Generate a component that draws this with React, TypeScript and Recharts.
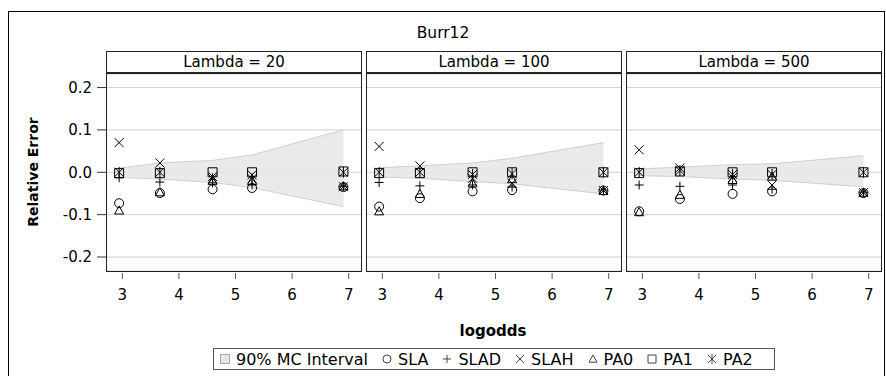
import React from 'react';
import { ComposedChart, Area, Scatter, XAxis, YAxis, CartesianGrid } from 'recharts';

// logodds = log((1-p)/p) for p = 0.05, 0.025, 0.01, 0.005, 0.001
const logodds = [2.944, 3.664, 4.595, 5.293, 6.907];
const panelTitles = ['Lambda = 20', 'Lambda = 100', 'Lambda = 500'];
const xTicks = [3, 4, 5, 6, 7];
const yTicks = [-0.2, -0.1, 0, 0.1, 0.2];

// 90% MC interval bounds, one row per lambda
const mcLow = [
  [-0.012, -0.016, -0.024, -0.036, -0.081],
  [-0.011, -0.014, -0.022, -0.027, -0.051],
  [-0.008, -0.010, -0.016, -0.019, -0.034],
];
const mcHigh = [
  [0.010, 0.022, 0.028, 0.041, 0.100],
  [0.011, 0.015, 0.022, 0.033, 0.070],
  [0.008, 0.012, 0.018, 0.020, 0.039],
];

// relative errors of each estimator, one row per lambda
const sla = [
  [-0.073, -0.049, -0.040, -0.037, -0.035],
  [-0.081, -0.061, -0.045, -0.042, -0.043],
  [-0.092, -0.063, -0.051, -0.045, -0.049],
];
const slad = [
  [-0.013, -0.023, -0.025, -0.030, -0.033],
  [-0.024, -0.032, -0.030, -0.035, -0.042],
  [-0.030, -0.033, -0.030, -0.040, -0.047],
];
const slah = [
  [0.070, 0.022, -0.010, -0.006, -0.034],
  [0.061, 0.015, -0.014, -0.026, -0.043],
  [0.053, 0.010, -0.012, -0.030, -0.048],
];
const pa0 = [
  [-0.090, -0.047, -0.020, -0.020, -0.033],
  [-0.092, -0.051, -0.026, -0.016, -0.044],
  [-0.094, -0.053, -0.018, -0.010, -0.048],
];
const pa1 = [
  [-0.002, -0.002, 0.0, 0.0, 0.002],
  [-0.002, -0.002, 0.0, 0.0, 0.0],
  [-0.002, 0.002, 0.0, 0.0, 0.0],
];
const pa2 = [
  [0.0, 0.0, -0.015, -0.015, 0.0],
  [0.0, 0.0, -0.005, -0.003, 0.0],
  [0.0, 0.004, -0.005, -0.005, 0.0],
];

type Kind = 'circle' | 'plus' | 'cross' | 'triangle' | 'square' | 'star';

const series: { key: string; name: string; kind: Kind; values: number[][] }[] = [
  { key: 'sla', name: 'SLA', kind: 'circle', values: sla },
  { key: 'slad', name: 'SLAD', kind: 'plus', values: slad },
  { key: 'slah', name: 'SLAH', kind: 'cross', values: slah },
  { key: 'pa0', name: 'PA0', kind: 'triangle', values: pa0 },
  { key: 'pa1', name: 'PA1', kind: 'square', values: pa1 },
  { key: 'pa2', name: 'PA2', kind: 'star', values: pa2 },
];

const FONT = '"DejaVu Sans", Verdana, sans-serif';
const PANEL_LEFT = [106, 366, 626];
const PANEL_W = 256;
const STRIP_TOP = 51;
const PLOT_TOP = 74;
const PLOT_H = 197;
const AXIS_H = 40;
const Y_AXIS_W = 98;
const X_DOMAIN = [2.712, 7.235];
const Y_DOMAIN = [-0.233, 0.232];

function symbolPath(kind: Kind, cx: number, cy: number, r: number) {
  switch (kind) {
    case 'plus':
      return `M${cx - r},${cy}H${cx + r}M${cx},${cy - r}V${cy + r}`;
    case 'cross':
      return `M${cx - r},${cy - r}L${cx + r},${cy + r}M${cx - r},${cy + r}L${cx + r},${cy - r}`;
    case 'triangle':
      return `M${cx},${cy - r}L${cx + r},${cy + r * 0.8}L${cx - r},${cy + r * 0.8}Z`;
    case 'square':
      return `M${cx - r},${cy - r}H${cx + r}V${cy + r}H${cx - r}Z`;
    case 'star':
      return `M${cx - r},${cy - r}L${cx + r},${cy + r}M${cx - r},${cy + r}L${cx + r},${cy - r}M${cx},${cy - r * 1.2}V${cy + r * 1.2}`;
    default:
      return '';
  }
}

function Symbol({ kind, cx, cy, r, color }: { kind: Kind; cx: number; cy: number; r: number; color: string }) {
  if (kind === 'circle') {
    return <circle cx={cx} cy={cy} r={r} fill="none" stroke={color} strokeWidth={1} />;
  }
  return <path d={symbolPath(kind, cx, cy, r)} fill="none" stroke={color} strokeWidth={1} />;
}

const markerShape = (kind: Kind) => (props: any) => {
  const { cx, cy } = props;
  if (cx == null || cy == null) return <g />;
  return <Symbol kind={kind} cx={cx} cy={cy} r={4.5} color="#000" />;
};

const XTick = (props: any) => {
  const { x, y, payload } = props;
  return (
    <g>
      <line x1={x} x2={x} y1={y - 6} y2={y} stroke="#555" />
      <text x={x} y={y + 21} textAnchor="middle" fontSize={15} fill="#000" fontFamily={FONT}>
        {payload.value}
      </text>
    </g>
  );
};

function Panel({ idx }: { idx: number }) {
  const first = idx === 0;
  const axisW = first ? Y_AXIS_W : 0;
  const rows = logodds.map((x, j) => {
    const row: Record<string, any> = { x, band: [mcLow[idx][j], mcHigh[idx][j]] };
    series.forEach((s) => {
      row[s.key] = s.values[idx][j];
    });
    return row;
  });

  return (
    <div style={{ position: 'absolute', left: PANEL_LEFT[idx] - axisW, top: PLOT_TOP }}>
      <ComposedChart
        width={PANEL_W + axisW}
        height={PLOT_H + AXIS_H}
        data={rows}
        margin={{ top: 0, right: 0, bottom: 0, left: 0 }}
      >
        <CartesianGrid horizontal vertical={false} stroke="#d0d0d0" />
        <XAxis
          type="number"
          dataKey="x"
          domain={X_DOMAIN}
          ticks={xTicks}
          interval={0}
          allowDataOverflow
          axisLine={false}
          tickLine={false}
          tickSize={8}
          tickMargin={0}
          height={AXIS_H}
          tick={(p: any) => <XTick {...p} />}
        />
        <YAxis
          type="number"
          domain={Y_DOMAIN}
          ticks={yTicks}
          interval={0}
          allowDataOverflow
          hide={!first}
          width={axisW}
          axisLine={false}
          tickSize={9}
          tickMargin={5}
          tickLine={{ stroke: '#333' }}
          tick={{ fontSize: 15, fill: '#000', fontFamily: FONT }}
          tickFormatter={(v: number) => v.toFixed(1)}
        />
        <Area
          type="linear"
          dataKey="band"
          fill="#e6e6e6"
          fillOpacity={0.85}
          stroke="#cfcfcf"
          strokeWidth={1}
          isAnimationActive={false}
          dot={false}
          activeDot={false}
        />
        {series.map((s) => (
          <Scatter key={s.key} dataKey={s.key} shape={markerShape(s.kind)} isAnimationActive={false} />
        ))}
      </ComposedChart>
    </div>
  );
}

function LegendBox() {
  const items: { label: string; kind: Kind | 'band' }[] = [
    { label: '90% MC Interval', kind: 'band' },
    ...series.map((s) => ({ label: s.name, kind: s.kind })),
  ];
  return (
    <div
      style={{
        position: 'absolute',
        left: 213,
        top: 348,
        width: 562,
        height: 22,
        boxSizing: 'border-box',
        border: '1px solid #555',
        display: 'flex',
        alignItems: 'center',
        paddingLeft: 5,
        fontFamily: FONT,
        fontSize: 16,
        color: '#000',
        whiteSpace: 'nowrap',
      }}
    >
      {items.map((it) => (
        <div key={it.label} style={{ display: 'flex', alignItems: 'center', marginRight: 13 }}>
          <svg width={12} height={12} style={{ marginRight: 5 }}>
            {it.kind === 'band' ? (
              <rect x={1.5} y={1.5} width={9} height={9} fill="#e6e6e6" stroke="#aaa" />
            ) : (
              <Symbol kind={it.kind} cx={6} cy={6} r={4} color="#444" />
            )}
          </svg>
          <span>{it.label}</span>
        </div>
      ))}
    </div>
  );
}

export default function App() {
  return (
    <div style={{ position: 'absolute', left: 0, top: 0, width: 886, height: 376, overflow: 'hidden', background: '#fff' }}>
      <div
        style={{
          position: 'absolute',
          left: 8,
          top: 11,
          width: 877,
          height: 380,
          boxSizing: 'border-box',
          border: '1px solid #000',
        }}
      />
      <div
        style={{
          position: 'absolute',
          left: 443,
          top: 33,
          transform: 'translate(-50%, -50%)',
          fontFamily: FONT,
          fontSize: 15.5,
          color: '#000',
          whiteSpace: 'nowrap',
        }}
      >
        Burr12
      </div>
      {panelTitles.map((_, i) => (
        <Panel key={i} idx={i} />
      ))}
      {panelTitles.map((t, i) => (
        <React.Fragment key={t}>
          <div
            style={{
              position: 'absolute',
              left: PANEL_LEFT[i],
              top: STRIP_TOP,
              width: PANEL_W,
              height: PLOT_TOP - STRIP_TOP,
              boxSizing: 'border-box',
              borderBottom: '2px solid #222',
              display: 'flex',
              alignItems: 'center',
              justifyContent: 'center',
              fontFamily: FONT,
              fontSize: 15,
              color: '#000',
            }}
          >
            {t}
          </div>
          <div
            style={{
              position: 'absolute',
              left: PANEL_LEFT[i],
              top: STRIP_TOP,
              width: PANEL_W,
              height: PLOT_TOP + PLOT_H - STRIP_TOP + 1,
              boxSizing: 'border-box',
              border: '1px solid #222',
              pointerEvents: 'none',
            }}
          />
        </React.Fragment>
      ))}
      <div
        style={{
          position: 'absolute',
          left: 33,
          top: 172,
          transform: 'translate(-50%, -50%) rotate(-90deg)',
          fontFamily: FONT,
          fontWeight: 'bold',
          fontSize: 14,
          color: '#000',
          whiteSpace: 'nowrap',
        }}
      >
        Relative Error
      </div>
      <div
        style={{
          position: 'absolute',
          left: 493,
          top: 331,
          transform: 'translate(-50%, -50%)',
          fontFamily: FONT,
          fontWeight: 'bold',
          fontSize: 15,
          color: '#000',
          whiteSpace: 'nowrap',
        }}
      >
        logodds
      </div>
      <LegendBox />
    </div>
  );
}
